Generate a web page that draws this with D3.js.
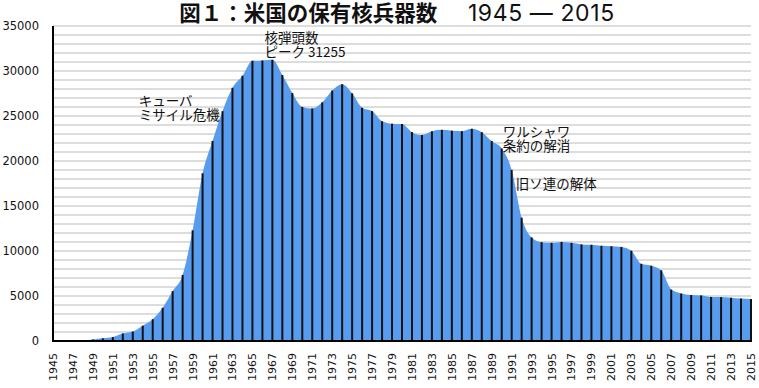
<!DOCTYPE html>
<html>
<head>
<meta charset="utf-8">
<script src="https://cdn.jsdelivr.net/npm/d3@7"></script>
<style>
  body { margin: 0; background: #fff; }
  svg { display: block; }
</style>
</head>
<body>
<svg id="chart"></svg>
<script>
// US stockpile of nuclear warheads, one value per year
const years = [1945, 1946, 1947, 1948, 1949, 1950, 1951, 1952, 1953, 1954,
    1955, 1956, 1957, 1958, 1959, 1960, 1961, 1962, 1963, 1964,
    1965, 1966, 1967, 1968, 1969, 1970, 1971, 1972, 1973, 1974,
    1975, 1976, 1977, 1978, 1979, 1980, 1981, 1982, 1983, 1984,
    1985, 1986, 1987, 1988, 1989, 1990, 1991, 1992, 1993, 1994,
    1995, 1996, 1997, 1998, 1999, 2000, 2001, 2002, 2003, 2004,
    2005, 2006, 2007, 2008, 2009, 2010, 2011, 2012, 2013, 2014, 2015];
const warheads = [2, 9, 13, 50, 170, 299, 438, 841, 1050, 1703,
    2422, 3692, 5543, 7345, 12298, 18638, 22229, 25540, 28133, 29463,
    31139, 31175, 31255, 29561, 27552, 26008, 25830, 26516, 27835, 28537,
    27519, 25914, 25542, 24418, 24138, 24104, 23208, 22886, 23305, 23459,
    23368, 23317, 23575, 23205, 22217, 21392, 19008, 13708, 11511, 10979,
    10904, 11011, 10903, 10732, 10685, 10577, 10526, 10457, 10027, 8570,
    8360, 7853, 5709, 5273, 5113, 5066, 4897, 4881, 4804, 4717, 4680];
const yTicks = [0, 5000, 10000, 15000, 20000, 25000, 30000, 35000];
const gridValues = d3.range(1000, 36000, 1000);
const xLabelYears = years.filter((y) => (y - 1945) % 2 === 0);

const notes = [
    { year: 1966.2, value: 33100, lines: ['核弾頭数', 'ピーク 31255'] },
    { year: 1953.6, value: 26100, lines: ['キューバ', 'ミサイル危機'] },
    { year: 1990.1, value: 22700, lines: ['ワルシャワ', '条約の解消'] },
    { year: 1991.4, value: 16900, lines: ['旧ソ連の解体'] },
];

const width = 759;
const height = 388;
const margin = { top: 26, right: 8, bottom: 47, left: 53 };

const svg = d3.select('#chart')
    .attr('width', width)
    .attr('height', height);

const x = d3.scaleLinear()
    .domain([1945, 2015])
    .range([margin.left, width - margin.right]);
const y = d3.scaleLinear()
    .domain([0, 35000])
    .range([height - margin.bottom, margin.top]);

const jp = "'Noto Sans CJK JP', 'Noto Sans', sans-serif";

// title
const title = svg.append('text')
    .attr('x', 397)
    .attr('y', 21)
    .attr('text-anchor', 'middle')
    .style('font-family', jp)
    .style('font-size', '21.5px')
    .style('fill', '#111');
title.append('tspan')
    .style('font-weight', 'bold')
    .text('図１：米国の保有核兵器数');
title.append('tspan')
    .style('font-family', "Inter, 'Noto Sans CJK JP', sans-serif")
    .style('font-size', '23px')
    .style('letter-spacing', '0.6px')
    .text('\u3000 1945 ― 2015');

// gridlines
svg.append('g')
    .selectAll('line')
    .data(gridValues)
    .enter()
    .append('line')
    .attr('x1', margin.left)
    .attr('x2', width - margin.right)
    .attr('y1', (d) => y(d))
    .attr('y2', (d) => y(d))
    .attr('stroke', '#d2d2d2')
    .attr('stroke-width', 1.5);

const points = years.map((yr, i) => ({ year: yr, value: warheads[i] }));

const area = d3.area()
    .x((d) => x(d.year))
    .y0(y(0))
    .y1((d) => y(d.value))
    .curve(d3.curveMonotoneX);

svg.append('path')
    .datum(points)
    .attr('d', area)
    .attr('fill', '#589cf0');

// one black stick per year
svg.append('g')
    .selectAll('line')
    .data(points)
    .enter()
    .append('line')
    .attr('x1', (d) => x(d.year))
    .attr('x2', (d) => x(d.year))
    .attr('y1', y(0))
    .attr('y2', (d) => y(d.value))
    .attr('stroke', '#111')
    .attr('stroke-width', 2);

// axes lines
svg.append('line')
    .attr('x1', x(1945)).attr('x2', x(1945))
    .attr('y1', y(35000)).attr('y2', y(0))
    .attr('stroke', '#000').attr('stroke-width', 2);
svg.append('line')
    .attr('x1', x(1945) - 1).attr('x2', x(2015) + 1)
    .attr('y1', y(0)).attr('y2', y(0))
    .attr('stroke', '#000').attr('stroke-width', 2);

// y labels
svg.append('g')
    .selectAll('text')
    .data(yTicks)
    .enter()
    .append('text')
    .attr('x', 39)
    .attr('y', (d) => y(d))
    .attr('dy', '0.36em')
    .attr('text-anchor', 'end')
    .style('font-family', "'DejaVu Sans', sans-serif")
    .style('font-size', '11.5px')
    .style('fill', '#111')
    .text((d) => d);

// x labels, rotated
svg.append('g')
    .selectAll('text')
    .data(xLabelYears)
    .enter()
    .append('text')
    .attr('transform', (d) => `translate(${x(d)}, 353) rotate(-90)`)
    .attr('dy', '0.36em')
    .attr('text-anchor', 'end')
    .style('font-family', "'DejaVu Sans', sans-serif")
    .style('font-size', '11px')
    .style('fill', '#111')
    .text((d) => d);

// annotations
notes.forEach((n) => {
    const t = svg.append('text')
        .attr('x', x(n.year))
        .attr('y', y(n.value))
        .style('font-family', jp)
        .style('font-size', '13.5px')
        .style('fill', '#111');
    n.lines.forEach((line, i) => {
        t.append('tspan')
            .attr('x', x(n.year))
            .attr('dy', i === 0 ? 0 : 14)
            .text(line);
    });
});
</script>
</body>
</html>
